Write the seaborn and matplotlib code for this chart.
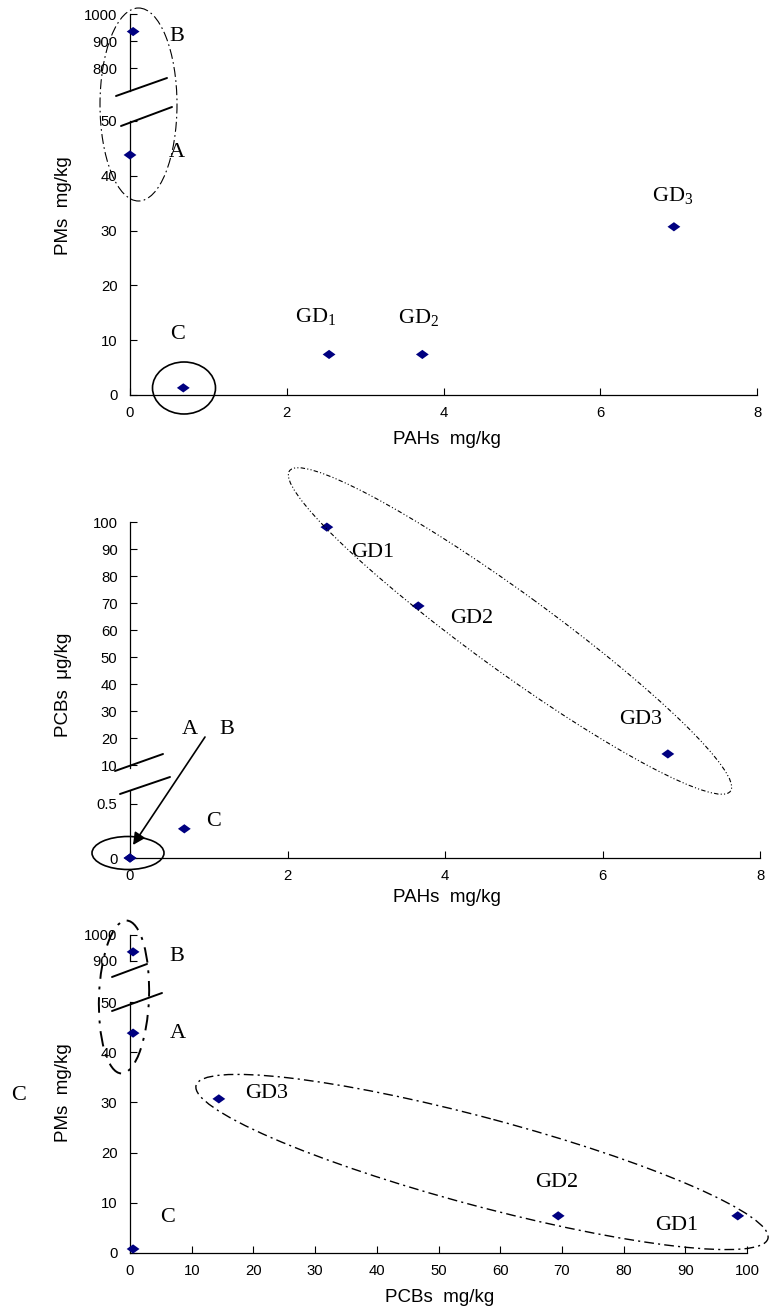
import matplotlib
matplotlib.use('Agg')
import matplotlib.pyplot as plt
from matplotlib.patches import Ellipse
from matplotlib.markers import MarkerStyle
from matplotlib.ticker import FuncFormatter
import pandas as pd
import seaborn as sns

# sample names
samples = ['A', 'B', 'C', 'GD1', 'GD2', 'GD3']

# (a) PMs vs PAHs, mg/kg
a_pahs = [0.0, 0.04, 0.68, 2.54, 3.73, 6.94]
a_pms = [43.8, 935, 1.3, 7.4, 7.4, 30.7]

# (b) PCBs vs PAHs
b_pahs = [0.0, 0.0, 0.69, 2.5, 3.66, 6.83]
b_pcbs = [0.0, 0.0, 0.27, 98.1, 68.9, 14.1]

# (c) PMs vs PCBs
c_pcbs = [0.5, 0.5, 0.5, 98.5, 69.4, 14.4]
c_pms = [43.8, 935, 0.8, 7.4, 7.4, 30.7]

sns.set_style('ticks')
plt.rcParams['font.family'] = ['Liberation Sans', 'DejaVu Sans']
plt.rcParams['mathtext.fontset'] = 'custom'
plt.rcParams['mathtext.rm'] = 'Liberation Serif'
plt.rcParams['text.color'] = 'black'
plt.rcParams['axes.labelcolor'] = 'black'

W, H = 770, 1310
fig = plt.figure(figsize=(W / 100, H / 100), dpi=100)


def rect(x0, x1, ytop, ybot):
    # pixel box -> figure fraction
    return [x0 / W, 1 - ybot / H, (x1 - x0) / W, (ybot - ytop) / H]


diamond = MarkerStyle([(-1, 0), (0, 0.72), (1, 0), (0, -0.72)])
fmt = FuncFormatter(lambda v, p: f'{v:g}')
serif = dict(family=['Liberation Serif', 'DejaVu Serif'], size=16, color='black')


def style_axes(low, up, xlim, xticks, low_ylim, low_yticks, up_ylim, up_yticks):
    for ax in (low, up):
        ax.set_xlim(*xlim)
        ax.set_xticks(xticks)
        ax.patch.set_alpha(0)
        ax.spines[['top', 'right']].set_visible(False)
        for side in ('left', 'bottom'):
            ax.spines[side].set_linewidth(0.9)
            ax.spines[side].set_color('black')
        ax.tick_params(direction='in', length=5, width=0.8, labelsize=10.7,
                       colors='black')
        ax.tick_params(axis='x', pad=8)
        ax.tick_params(axis='y', pad=9)
        ax.xaxis.set_major_formatter(fmt)
        ax.yaxis.set_major_formatter(fmt)
        ax.set(xlabel='', ylabel='')
    low.set_ylim(*low_ylim)
    low.set_yticks(low_yticks)
    up.set_ylim(*up_ylim)
    up.set_yticks(up_yticks)
    up.spines['bottom'].set_visible(False)
    up.tick_params(axis='x', bottom=False, labelbottom=False)


def draw_panel(low, up, xs, ys, split, labels, offsets):
    df = pd.DataFrame({'x': xs, 'y': ys, 'name': samples})
    for ax, part in ((low, df[df.y < split]), (up, df[df.y >= split])):
        sns.scatterplot(data=part, x='x', y='y', ax=ax, marker=diamond, s=85,
                        color='#000080', edgecolor='none', clip_on=False,
                        zorder=5)
    for i, row in df.iterrows():
        ax = up if row.y >= split else low
        ax.annotate(labels[i], (row.x, row.y), xytext=offsets[i],
                    textcoords='offset pixels', ha='center', va='center',
                    annotation_clip=False, **serif)


# ---- panel (a)
a_low = fig.add_axes(rect(130, 757, 121, 395))
a_up = fig.add_axes(rect(130, 757, 14, 91), sharex=a_low)
draw_panel(a_low, a_up, a_pahs, a_pms, 100,
           ['A', 'B', 'C', 'GD$_\\mathregular{1}$', 'GD$_\\mathregular{2}$',
            'GD$_\\mathregular{3}$'],
           [(47, 2), (44, -5), (-6, 53), (-13, 37), (-4, 36), (-1, 31)])
style_axes(a_low, a_up, (0, 8), range(0, 9, 2), (0, 50), range(0, 51, 10),
           (715, 1000), [800, 900, 1000])

# ---- panel (b)
b_low = fig.add_axes(rect(130, 760, 791, 858))
b_up = fig.add_axes(rect(130, 760, 522, 768), sharex=b_low)
draw_panel(b_low, b_up, b_pahs, b_pcbs, 5,
           ['A', 'B', 'C', 'GD1', 'GD2', 'GD3'],
           [(60, 129), (97, 129), (29, 7), (46, -25), (53, -13), (-27, 34)])
style_axes(b_low, b_up, (0, 8), range(0, 9, 2), (0, 0.62), [0, 0.5],
           (8.9, 100), range(10, 101, 10))

# ---- panel (c)
c_low = fig.add_axes(rect(130, 747, 1002, 1253))
c_up = fig.add_axes(rect(130, 747, 935, 961), sharex=c_low)
draw_panel(c_low, c_up, c_pcbs, c_pms, 100,
           ['A', 'B', 'C', 'GD1', 'GD2', 'GD3'],
           [(45, 0), (44, -5), (34, 31), (-61, -10), (-2, 33), (48, 5)])
style_axes(c_low, c_up, (0, 100), range(0, 101, 10), (0, 50),
           range(0, 51, 10), (900, 1000), [900, 1000])

# ---- overlay in pixel coordinates for ellipses, breaks and axis titles
ov = fig.add_axes([0, 0, 1, 1])
ov.set_xlim(0, W)
ov.set_ylim(H, 0)
ov.axis('off')


def ell(c, w, h, ang=0, **kw):
    ov.add_patch(Ellipse(c, w, h, angle=ang, fill=False, color='black', **kw))


def brk(p, q):
    ov.plot([p[0], q[0]], [p[1], q[1]], color='black', lw=1.4)


# (a)
ell((138.5, 104.5), 77, 193, 0, lw=0.8, linestyle=(0, (9, 3, 1.5, 3)))
ell((184, 388), 63, 52, 0, lw=1.2)
brk((116, 96), (167, 78))
brk((121, 126), (172, 107))
ov.text(63, 206, 'PMs  mg/kg', rotation=90, ha='center', va='center', size=13.5)
ov.text(447, 439, 'PAHs  mg/kg', ha='center', va='center', size=13.5)

# (b)
ell((510, 631), 545, 78, 36, lw=0.8, linestyle=(0, (4, 2, 1, 2, 1, 2)))
ell((128, 853), 72, 33, 0, lw=1.2)
ov.annotate('', xy=(133, 845), xytext=(205, 737),
            arrowprops=dict(arrowstyle='-|>', color='black', lw=1.2,
                            mutation_scale=18, shrinkA=0, shrinkB=0))
brk((115, 771), (163, 754))
brk((120, 794), (170, 777))
ov.text(63, 685, 'PCBs  μg/kg', rotation=90, ha='center', va='center', size=13.5)
ov.text(447, 898, 'PAHs  mg/kg', ha='center', va='center', size=13.5)

# (c)
ell((124, 997), 50, 153, 2, lw=1.4, linestyle=(0, (8, 4, 1.5, 4)))
ell((482, 1162), 592, 88, 15, lw=1.0, linestyle=(0, (7, 3, 1.5, 3)))
brk((112, 977), (147, 964))
brk((112, 1011), (162, 993))
ov.text(63, 1093, 'PMs  mg/kg', rotation=90, ha='center', va='center', size=13.5)
ov.text(440, 1298, 'PCBs  mg/kg', ha='center', va='center', size=13.5)
ov.text(19, 1095, 'C', ha='center', va='center', **serif)

fig.savefig('out.png', dpi=100)
